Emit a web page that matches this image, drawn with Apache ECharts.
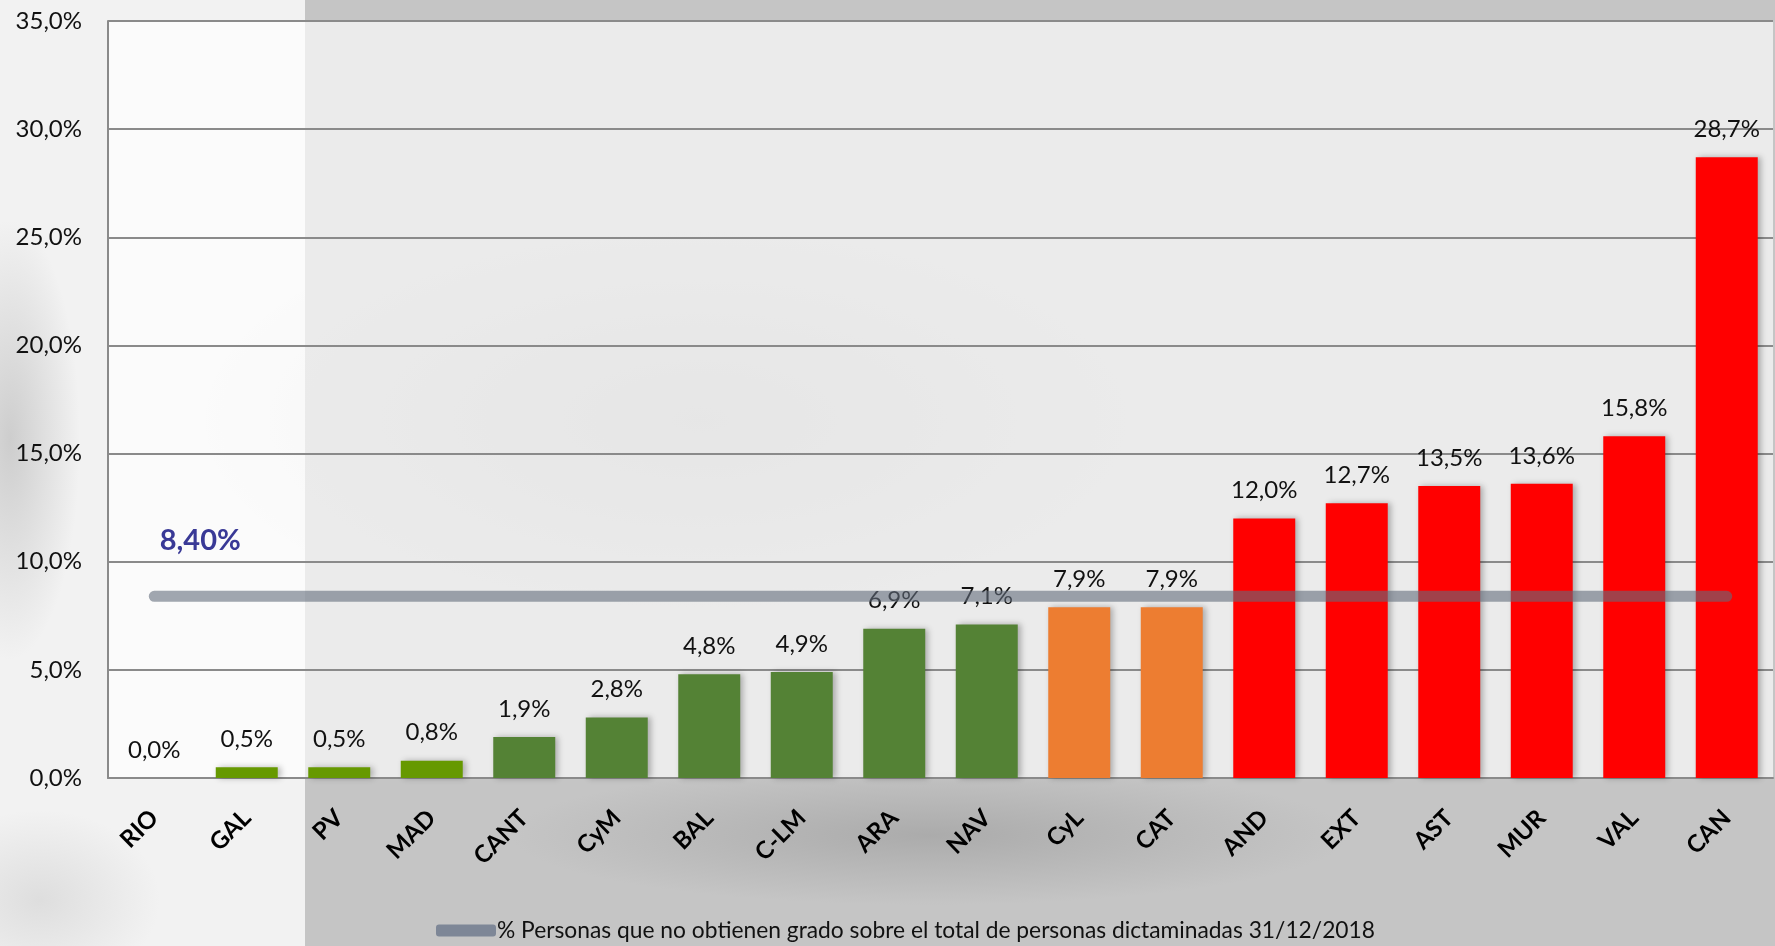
<!DOCTYPE html>
<html>
<head>
<meta charset="utf-8">
<script src="https://cdn.jsdelivr.net/npm/echarts@6/dist/echarts.min.js"></script>
<style>
  html, body { margin: 0; padding: 0; }
  #chart {
    width: 1775px;
    height: 946px;
    background:
      radial-gradient(ellipse 70px 220px at 10px 440px, rgba(150,150,150,0.4), rgba(150,150,150,0) 100%),
      radial-gradient(ellipse 120px 90px at 40px 900px, rgba(175,175,175,0.3), rgba(175,175,175,0) 100%),
      radial-gradient(ellipse 420px 70px at 930px 835px, rgba(150,150,150,0.55), rgba(150,150,150,0) 100%),
      radial-gradient(ellipse 500px 220px at 700px 420px, rgba(120,120,120,0.18), rgba(120,120,120,0) 100%),
      linear-gradient(to right, #f2f2f2 0px, #f2f2f2 305px, #c5c5c5 305px, #c5c5c5 100%);
  }
</style>
</head>
<body>
<div id="chart"></div>
<script>
// Regions (comunidades autónomas), sorted by share
const categories = ['RIO', 'GAL', 'PV', 'MAD', 'CANT', 'CyM', 'BAL', 'C-LM', 'ARA', 'NAV',
                    'CyL', 'CAT', 'AND', 'EXT', 'AST', 'MUR', 'VAL', 'CAN'];
// % of assessed people who obtain no degree, per region
const values = [0.0, 0.5, 0.5, 0.8, 1.9, 2.8, 4.8, 4.9, 6.9, 7.1,
                7.9, 7.9, 12.0, 12.7, 13.5, 13.6, 15.8, 28.7];
// colour band each region falls in
const bands = ['low', 'low', 'low', 'low', 'mid', 'mid', 'mid', 'mid', 'mid', 'mid',
               'near', 'near', 'high', 'high', 'high', 'high', 'high', 'high'];
// national average
const nationalAverage = 8.40;
const seriesName = '% Personas que no obtienen grado sobre el total de personas dictaminadas 31/12/2018';
// value axis range
const yMin = 0, yMax = 35, yStep = 5;

const bandColors = { low: '#669900', mid: '#548235', near: '#ED7D31', high: '#FF0000' };
const pct = (v, d) => v.toFixed(d).replace('.', ',') + '%';
const FONT = 'Lato, "Noto Sans", sans-serif';

const chart = echarts.init(document.getElementById('chart'), null, { renderer: 'canvas' });

chart.setOption({
  backgroundColor: 'transparent',
  animation: false,
  grid: {
    left: 108, right: 2, top: 21, bottom: 168,
    show: true,
    backgroundColor: 'rgba(255,255,255,0.66)',
    borderWidth: 0
  },
  legend: {
    data: [seriesName],
    left: 431,
    top: 914,
    icon: 'roundRect',
    itemWidth: 60,
    itemHeight: 12,
    itemGap: 0,
    itemStyle: { color: '#7e8797' },
    textStyle: { fontFamily: FONT, fontSize: 22.8, color: '#111', padding: [0, 0, 0, -4] }
  },
  xAxis: {
    type: 'category',
    data: categories,
    axisLine: { show: true, lineStyle: { color: '#8a8a8a', width: 2 } },
    axisTick: { show: false },
    axisLabel: {
      rotate: 45,
      margin: 36,
      interval: 0,
      fontFamily: FONT,
      fontWeight: 'bold',
      fontSize: 24,
      color: '#000'
    }
  },
  yAxis: {
    type: 'value',
    min: yMin,
    max: yMax,
    interval: yStep,
    axisLine: { show: true, lineStyle: { color: '#8a8a8a', width: 2 } },
    axisTick: { show: false },
    splitLine: { show: true, lineStyle: { color: '#8a8a8a', width: 2 } },
    axisLabel: {
      margin: 26,
      fontFamily: FONT,
      fontSize: 24,
      color: '#111',
      formatter: v => pct(v, 1)
    }
  },
  series: [
    {
      name: 'regiones',
      type: 'bar',
      barCategoryGap: '33%',
      z: 2,
      data: values.map((v, i) => ({
        value: v,
        itemStyle: { color: bandColors[bands[i]] }
      })),
      itemStyle: {
        shadowColor: 'rgba(0,0,0,0.28)',
        shadowBlur: 6,
        shadowOffsetX: 3,
        shadowOffsetY: 0
      },
      label: {
        show: true,
        position: 'top',
        distance: 16,
        fontFamily: FONT,
        fontSize: 24,
        color: '#111',
        formatter: p => pct(p.value, 1)
      }
    },
    {
      name: seriesName,
      type: 'line',
      z: 5,
      symbol: 'circle',
      symbolSize: 0,
      showSymbol: true,
      itemStyle: { color: '#7e8797' },
      lineStyle: { color: 'rgba(98,108,124,0.6)', width: 11, cap: 'round' },
      label: { show: false },
      data: categories.map((c, i) => i === 0 ? {
        value: nationalAverage,
        label: {
          show: true,
          position: 'top',
          offset: [46, -36],
          fontFamily: FONT,
          fontWeight: 'bold',
          fontSize: 29,
          color: '#393996',
          formatter: () => pct(nationalAverage, 2)
        }
      } : nationalAverage)
    }
  ]
});
</script>
</body>
</html>
